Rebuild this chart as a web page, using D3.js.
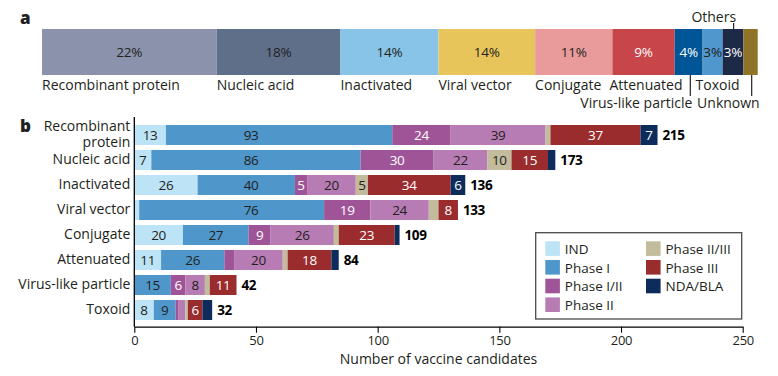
<!DOCTYPE html>
<html>
<head>
<meta charset="utf-8">
<script src="https://cdn.jsdelivr.net/npm/d3@7"></script>
<style>
    body { margin: 0; background: #fff; }
    svg text { font-family: "Open Sans", "Liberation Sans", Arial, sans-serif; fill: #231f20; }
</style>
</head>
<body>
<svg id="chart" width="778" height="376"></svg>
<script>
    // panel a: share of candidates per platform
    const platforms = ["Recombinant protein", "Nucleic acid", "Inactivated", "Viral vector", "Conjugate",
                       "Attenuated", "Virus-like particle", "Toxoid", "Others", "Unknown"];
    const platformShare = [24.4, 17.3, 13.7, 13.5, 10.8, 8.7, 3.9, 2.8, 2.9, 2.0];
    const platformLabels = ["22%", "18%", "14%", "14%", "11%", "9%", "4%", "3%", "3%", ""];

    // panel b: candidates per platform and phase
    const categories = ["Recombinant protein", "Nucleic acid", "Inactivated", "Viral vector",
                        "Conjugate", "Attenuated", "Virus-like particle", "Toxoid"];
    const phases = ["IND", "Phase I", "Phase I/II", "Phase II", "Phase II/III", "Phase III", "NDA/BLA"];
    const ind        = [13,  7, 26,  2, 20, 11,  0, 8];
    const phaseI     = [93, 86, 40, 76, 27, 26, 15, 9];
    const phaseI_II  = [24, 30,  5, 19,  9,  4,  6, 1];
    const phaseII    = [39, 22, 20, 24, 26, 20,  8, 3];
    const phaseII_III= [ 2, 10,  5,  4,  2,  2,  2, 1];
    const phaseIII   = [37, 15, 34,  8, 23, 18, 11, 6];
    const ndaBla     = [ 7,  3,  6,  0,  2,  3,  0, 4];
    const xTicks = [0, 50, 100, 150, 200, 250];

    const platformColors = ["#8a93ab", "#5f6e89", "#88c3e8", "#e8c55a", "#e99b9b",
                            "#c8454a", "#005596", "#4f97cc", "#1c2a48", "#8f7328"];
    const platformTextColors = ["#231f20", "#231f20", "#231f20", "#231f20", "#231f20",
                                "#fff", "#fff", "#231f20", "#fff", "#fff"];
    const phaseColors = ["#bde3f6", "#4f96cb", "#a05498", "#b77cb4", "#c2bc9c", "#9b2c2e", "#0d2c5c"];
    const phaseTextColors = ["#231f20", "#231f20", "#fff", "#231f20", "#231f20", "#fff", "#fff"];

    const svg = d3.select("#chart");

    // ---------- panel a ----------
    svg.append("text").attr("x", 20).attr("y", 24)
        .style("font-size", "17px").style("font-weight", "800").text("a");

    let shareTotal = d3.sum(platformShare);
    let xa = d3.scaleLinear().domain([0, shareTotal]).range([42, 757.7]);
    let cum = 0;
    let segA = platforms.map((p, i) => {
        let s = {name: p, x0: cum, x1: cum + platformShare[i], label: platformLabels[i], i: i};
        cum += platformShare[i];
        return s;
    });

    let barTop = 29, barH = 46;
    let ga = svg.append("g");
    ga.selectAll("rect").data(segA).enter().append("rect")
        .attr("x", d => xa(d.x0))
        .attr("width", d => xa(d.x1) - xa(d.x0))
        .attr("y", barTop).attr("height", barH)
        .attr("fill", d => platformColors[d.i]);
    ga.selectAll("text.pct").data(segA).enter().append("text").attr("class", "pct")
        .attr("x", d => (xa(d.x0) + xa(d.x1)) / 2)
        .attr("y", barTop + barH / 2 + 5)
        .attr("text-anchor", "middle")
        .style("font-size", "13.5px")
        .style("letter-spacing", "-0.2px")
        .style("fill", d => platformTextColors[d.i])
        .text(d => d.label);

    // label placement below / above the bar
    const labelLayout = {
        "Attenuated": {dx: -3},
        "Toxoid": {dx: -7},
        "Virus-like particle": {leader: 0.56, anchor: "end", line: 2, dxText: 0},
        "Unknown": {leader: 0.58, anchor: "end", line: 2, dxText: 6},
        "Others": {leader: 0.53, anchor: "end", line: 0, dxText: 0.5}
    };
    segA.forEach(d => {
        let lay = labelLayout[d.name] || {};
        let xs = xa(d.x0), xe = xa(d.x1);
        if (lay.leader !== undefined) {
            let lx = xs + (xe - xs) * lay.leader;
            let above = lay.line === 0;
            ga.append("line")
                .attr("x1", lx).attr("x2", lx)
                .attr("y1", above ? 23 : barTop + barH)
                .attr("y2", above ? barTop : 96)
                .attr("stroke", "#231f20").attr("stroke-width", 1.2);
            ga.append("text")
                .attr("x", lx + (lay.dxText || 0) + 2)
                .attr("y", above ? 21.5 : 107.5)
                .attr("text-anchor", lay.anchor)
                .style("font-size", "14px")
                .text(d.name);
        } else {
            ga.append("text")
                .attr("x", xs + (lay.dx || 0))
                .attr("y", 90)
                .style("font-size", "14px")
                .text(d.name);
        }
    });

    // ---------- panel b ----------
    svg.append("text").attr("x", 20).attr("y", 132)
        .style("font-size", "17px").style("font-weight", "800").text("b");

    const series = [ind, phaseI, phaseI_II, phaseII, phaseII_III, phaseIII, ndaBla];
    let rows = categories.map((c, i) => {
        let row = {category: c};
        phases.forEach((p, j) => row[p] = series[j][i]);
        row.total = d3.sum(series, s => s[i]);
        return row;
    });

    let axisY = 326.7;
    let x = d3.scaleLinear().domain([0, 250]).range([134.3, 742.7]);
    let y = d3.scaleBand().domain(categories).range([122.5, 322.5]).paddingInner(0.2).paddingOuter(0.1);

    let stacked = d3.stack().keys(phases)(rows);
    let gb = svg.append("g");
    let layers = gb.selectAll("g.layer").data(stacked).enter().append("g").attr("class", "layer");
    layers.selectAll("rect").data(d => d).enter().append("rect")
        .attr("x", d => x(d[0]))
        .attr("width", d => x(d[1]) - x(d[0]))
        .attr("y", d => y(d.data.category))
        .attr("height", y.bandwidth())
        .attr("fill", function() { return phaseColors[phases.indexOf(d3.select(this.parentNode).datum().key)]; });

    // Phase I numbers sit on a common column when the segment is wide enough
    let phaseIAlign = 48;
    layers.each(function(layer) {
        let k = phases.indexOf(layer.key);
        d3.select(this).selectAll("text").data(layer.filter(d => d[1] - d[0] >= 5)).enter().append("text")
            .attr("x", d => {
                if (layer.key === "Phase I" && d[0] < phaseIAlign - 8 && d[1] > phaseIAlign + 8) return x(phaseIAlign);
                return (x(d[0]) + x(d[1])) / 2;
            })
            .attr("y", d => y(d.data.category) + y.bandwidth() / 2 + 4.7)
            .attr("text-anchor", "middle")
            .style("font-size", "13.5px")
            .style("letter-spacing", "-0.3px")
            .style("fill", phaseTextColors[k])
            .text(d => d[1] - d[0]);
    });

    gb.selectAll("text.total").data(rows).enter().append("text").attr("class", "total")
        .attr("x", d => x(d.total) + 5)
        .attr("y", d => y(d.category) + y.bandwidth() / 2 + 4.7)
        .style("font-size", "13.5px").style("font-weight", "bold")
        .style("letter-spacing", "-0.4px")
        .style("fill", "#000")
        .text(d => d.total);

    // axes
    let yAxis = gb.append("g").attr("transform", "translate(" + x(0) + ",0)")
        .call(d3.axisLeft(y).tickSize(0).tickPadding(4));
    yAxis.select(".domain").remove();
    yAxis.selectAll("text").style("font-size", "14px").attr("font-family", null)
        .each(function(d) {
            if (d === "Recombinant protein") {
                let t = d3.select(this).text(null).attr("dy", null);
                t.append("tspan").attr("x", -4).attr("y", -4).text("Recombinant");
                t.append("tspan").attr("x", -4).attr("y", 11.8).text("protein");
            }
        });
    gb.append("line").attr("x1", x(0)).attr("x2", x(0)).attr("y1", 117).attr("y2", axisY)
        .attr("stroke", "#000").attr("stroke-width", 1.3);

    let xAxis = gb.append("g").attr("transform", "translate(0," + axisY + ")")
        .call(d3.axisBottom(x).tickValues(xTicks).tickSize(6).tickSizeOuter(0).tickPadding(3));
    xAxis.select(".domain").attr("stroke", "#000").attr("stroke-width", 1.3);
    xAxis.selectAll(".tick line").attr("stroke", "#000").attr("stroke-width", 1.1);
    xAxis.selectAll("text").style("font-size", "13px").style("letter-spacing", "-0.3px").attr("font-family", null);

    gb.append("text").attr("x", (x(0) + x(250)) / 2).attr("y", 364)
        .attr("text-anchor", "middle").style("font-size", "14px")
        .text("Number of vaccine candidates");

    // legend
    let lg = svg.append("g").attr("transform", "translate(535.7,232.7)");
    lg.append("rect").attr("width", 206).attr("height", 86.3)
        .attr("fill", "#fff").attr("stroke", "#4a4a4a").attr("stroke-width", 1.3);
    let legendCols = [[0, 1, 2, 3], [4, 5, 6]];
    legendCols.forEach((col, ci) => {
        let item = lg.selectAll("g.c" + ci).data(col).enter().append("g")
            .attr("transform", (k, r) => "translate(" + (ci ? 110.3 : 9.6) + "," + (8.6 + r * 18.7) + ")");
        item.append("rect").attr("width", 14.6).attr("height", 14.6).attr("fill", k => phaseColors[k]);
        item.append("text").attr("x", 19.5).attr("y", 12.5)
            .style("font-size", "13.5px").text(k => phases[k]);
    });
</script>
</body>
</html>
